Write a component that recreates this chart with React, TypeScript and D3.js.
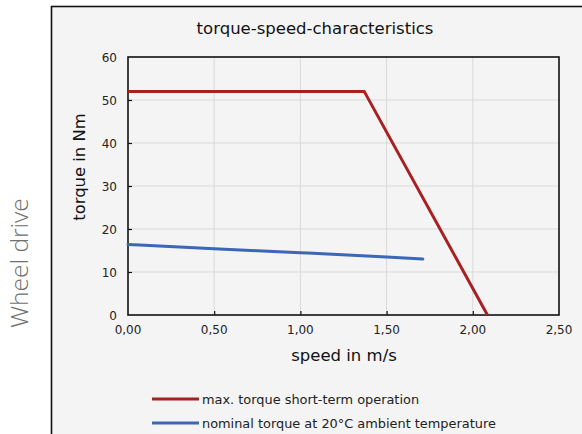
import React, { useEffect, useRef } from 'react';
import * as d3 from 'd3';

// data
const maxTorqueSpeed = [0, 1.37, 2.085];
const maxTorqueValue = [52, 52, 0];
const nominalSpeed = [0, 0.5, 1.0, 1.5, 1.71];
const nominalValue = [16.4, 15.4, 14.5, 13.5, 13.0];
const xTicks = [0, 0.5, 1.0, 1.5, 2.0, 2.5];
const yTicks = [0, 10, 20, 30, 40, 50, 60];
const seriesNames = ['max. torque short-term operation', 'nominal torque at 20°C ambient temperature'];
const seriesColors = ['#a82122', '#3a67b6'];

const App: React.FC = () => {
  const svgRef = useRef<SVGSVGElement | null>(null);

  useEffect(() => {
    if (!svgRef.current) return;
    const svg = d3.select(svgRef.current);
    svg.selectAll('*').remove();

    const width = 582;
    const height = 434;
    const font = "'DejaVu Sans', Verdana, sans-serif";
    const margin = { top: 57, right: 23, bottom: 119, left: 128 };

    // panel background
    svg.append('rect')
      .attr('width', width).attr('height', height).attr('fill', '#fff');
    svg.append('rect')
      .attr('x', 51.5).attr('y', 6.5)
      .attr('width', width).attr('height', height)
      .attr('fill', '#f4f4f4')
      .attr('stroke', '#111').attr('stroke-width', 1.6);

    svg.append('text')
      .attr('transform', 'translate(28,263) rotate(-90)')
      .attr('text-anchor', 'middle')
      .style('font', `300 24.5px 'Open Sans', Lato, sans-serif`)
      .attr('fill', '#707070')
      .text('Wheel drive');

    const xScale = d3.scaleLinear().domain([0, 2.5]).range([margin.left, width - margin.right]);
    const yScale = d3.scaleLinear().domain([0, 60]).range([height - margin.bottom, margin.top]);

    // grid
    const grid = svg.append('g').attr('stroke', '#d9d9d9').attr('stroke-width', 1);
    xTicks.slice(1, -1).forEach(t => {
      grid.append('line')
        .attr('x1', xScale(t)).attr('x2', xScale(t))
        .attr('y1', yScale(0)).attr('y2', yScale(60));
    });
    yTicks.slice(1, -1).forEach(t => {
      grid.append('line')
        .attr('x1', xScale(0)).attr('x2', xScale(2.5))
        .attr('y1', yScale(t)).attr('y2', yScale(t));
    });

    // axes with inward ticks
    const xAxis = svg.append('g')
      .attr('transform', `translate(0,${yScale(0)})`)
      .call(d3.axisTop(xScale).tickValues(xTicks).tickSize(4).tickFormat(() => ''));
    xAxis.selectAll('.tick').filter((_, i) => i === 0 || i === xTicks.length - 1).select('line').remove();
    xAxis.select('.domain').remove();

    const yAxis = svg.append('g')
      .attr('transform', `translate(${xScale(0)},0)`)
      .call(d3.axisRight(yScale).tickValues(yTicks).tickSize(4).tickFormat(() => ''));
    yAxis.selectAll('.tick').filter((_, i) => i === 0 || i === yTicks.length - 1).select('line').remove();
    yAxis.select('.domain').remove();
    svg.selectAll('.tick line').attr('stroke', '#111').attr('stroke-width', 1.2);

    // tick labels
    xTicks.forEach(t => {
      svg.append('text')
        .attr('x', xScale(t)).attr('y', yScale(0) + 19)
        .attr('text-anchor', 'middle')
        .style('font', `12px ${font}`).attr('fill', '#222')
        .text(d3.format('.2f')(t).replace('.', ','));
    });
    yTicks.forEach(t => {
      svg.append('text')
        .attr('x', xScale(0) - 11).attr('y', yScale(t) + 4.5)
        .attr('text-anchor', 'end')
        .style('font', `12px ${font}`).attr('fill', '#222')
        .text(String(t));
    });

    // plot frame
    svg.append('rect')
      .attr('x', xScale(0)).attr('y', yScale(60))
      .attr('width', xScale(2.5) - xScale(0)).attr('height', yScale(0) - yScale(60))
      .attr('fill', 'none').attr('stroke', '#111').attr('stroke-width', 1.6);

    // lines
    const line = d3.line<[number, number]>()
      .x(d => xScale(d[0]))
      .y(d => yScale(d[1]));
    const curve = d3.line<[number, number]>()
      .x(d => xScale(d[0]))
      .y(d => yScale(d[1]))
      .curve(d3.curveMonotoneX);

    svg.append('path')
      .datum(nominalSpeed.map((s, i) => [s, nominalValue[i]] as [number, number]))
      .attr('fill', 'none').attr('stroke', seriesColors[1]).attr('stroke-width', 3)
      .attr('stroke-linecap', 'round')
      .attr('d', curve);
    svg.append('path')
      .datum(maxTorqueSpeed.map((s, i) => [s, maxTorqueValue[i]] as [number, number]))
      .attr('fill', 'none').attr('stroke', seriesColors[0]).attr('stroke-width', 3)
      .attr('d', line);

    // titles
    svg.append('text')
      .attr('x', 315).attr('y', 34)
      .attr('text-anchor', 'middle')
      .style('font', `16.5px ${font}`).attr('fill', '#111')
      .text('torque-speed-characteristics');
    svg.append('text')
      .attr('x', 344).attr('y', 361)
      .attr('text-anchor', 'middle')
      .style('font', `16.5px ${font}`).attr('fill', '#111')
      .text('speed in m/s');
    svg.append('text')
      .attr('transform', 'translate(85,167) rotate(-90)')
      .attr('text-anchor', 'middle')
      .style('font', `16.4px ${font}`).attr('fill', '#111')
      .text('torque in Nm');

    // legend
    seriesNames.forEach((name, i) => {
      const y = 399 + i * 24;
      svg.append('line')
        .attr('x1', 152).attr('x2', 199).attr('y1', y).attr('y2', y)
        .attr('stroke', seriesColors[i]).attr('stroke-width', 3);
      svg.append('text')
        .attr('x', 202).attr('y', y + 4.5)
        .style('font', `12.9px ${font}`).attr('fill', '#222')
        .text(name);
    });
  }, []);

  return (
    <svg ref={svgRef} width={582} height={434}
      style={{ position: 'absolute', left: 0, top: 0, display: 'block' }} />
  );
};

export default App;
